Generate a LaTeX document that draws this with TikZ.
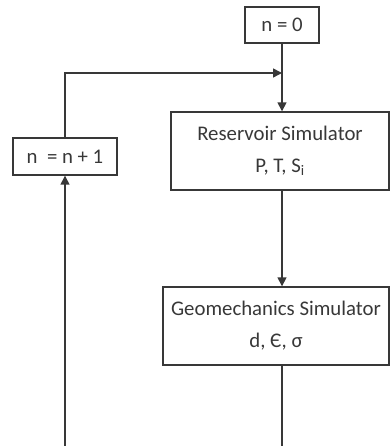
\documentclass[tikz,border=0pt]{standalone}
\usepackage{fontspec}
\setmainfont{Carlito}
\usetikzlibrary{arrows.meta}
\definecolor{ink}{gray}{0.22}

\begin{document}
\begin{tikzpicture}[x=1pt,y=-1pt,
    box/.style={draw=ink,line width=1.4pt,text=ink,inner sep=0pt,align=center,
      font=\fontsize{20.8}{32}\selectfont},
    flow/.style={draw=ink,line width=1.5pt,-{Triangle[width=9pt,length=9pt]}},
    wire/.style={draw=ink,line width=1.5pt}]
      % Rand
      \useasboundingbox (0,0) rectangle (390,446);
      % Rutor
      \node[box,minimum width=74pt,minimum height=36pt] (start) at (282,25) {n = 0};
      \node[box,minimum width=104pt,minimum height=37pt] (incr) at (65,156.5) {n \ = n + 1};
      \node[box,minimum width=218pt,minimum height=78pt] (res) at (280,151)
        {Reservoir Simulator\\P, T, S\textsubscript{i}};
      \node[box,minimum width=226pt,minimum height=78pt] (geo) at (276,326)
        {Geomechanics Simulator\\d, Є, σ};
      % Hjälppunkter
      \coordinate (join) at (282,73);
      \coordinate (geoend) at (282,446);
      \coordinate (incrend) at (65,446);
      % Pilar
      \draw[flow] (start.south) -- (start.south |- res.north);
      \draw[flow] (incr.north) |- (join);
      \draw[flow] (res.south -| join) -- (geo.north -| join);
      \draw[wire] (geo.south -| join) -- (geoend);
      \draw[flow] (incrend) -- (incr.south);
    \end{tikzpicture}
\end{document}
